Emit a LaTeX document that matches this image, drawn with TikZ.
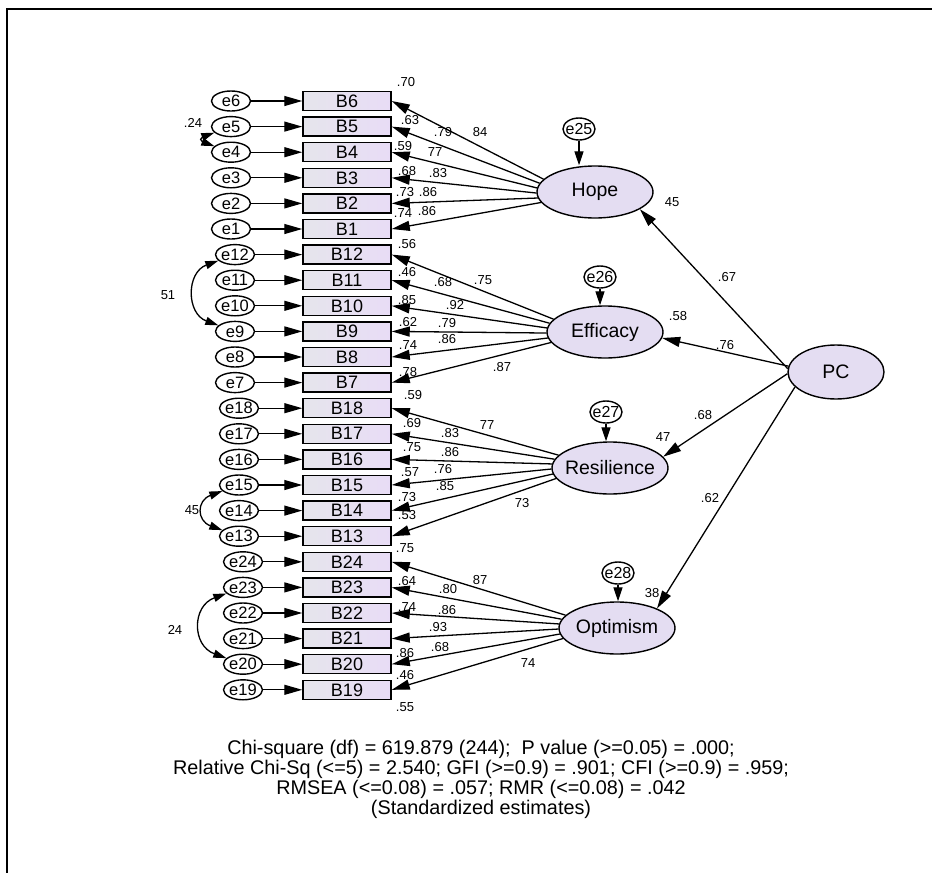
\documentclass[tikz,border=0pt]{standalone}
\usepackage{fontspec}
\setmainfont{Liberation Sans}
\usetikzlibrary{arrows.meta,shapes.geometric}
\definecolor{latViola}{HTML}{E4DDF2}
\definecolor{indGrigio}{HTML}{E6E5EC}
\definecolor{indViola}{HTML}{E8DCF6}

\begin{document}
\begin{tikzpicture}[x=1pt,y=-1pt,
  errore/.style={ellipse,draw,line width=1.4pt,fill=white,inner sep=0pt,
    minimum width=39pt,minimum height=20pt,font=\fontsize{16.5}{16.5}\selectfont},
  disturbo/.style={ellipse,draw,line width=1.4pt,fill=white,inner xsep=-3pt,inner ysep=0pt,
    minimum width=32pt,minimum height=22pt,font=\fontsize{16}{16}\selectfont},
  indicatore/.style={rectangle,draw,line width=1.5pt,left color=indGrigio,right color=indViola,
    minimum width=88pt,minimum height=19pt,inner sep=0pt,font=\fontsize{18}{18}\selectfont},
  latente/.style={ellipse,draw,line width=1.4pt,fill=latViola,inner xsep=-15pt,inner ysep=0pt,
    minimum width=116pt,minimum height=52pt,font=\fontsize{19.5}{19.5}\selectfont},
  peso/.style={font=\fontsize{13}{13}\selectfont,inner sep=0pt},
  freccia/.style={line width=1.3pt,-{Triangle[length=18pt,width=10pt]}},
  covarianza/.style={line width=1.3pt,{Triangle[length=13pt,width=8pt]}-{Triangle[length=13pt,width=8pt]}}]
  \useasboundingbox (0,0) rectangle (932,873);
  % Cornice: solo i lati superiore e sinistro restano nel ritaglio.
  \draw[line width=1.6pt] (7,873) -- (7,9) -- (932,9);
  % Fattori latenti e fattore di ordine superiore.
  \node[latente] (Hope) at (595,192) {Hope};
  \node[latente] (Efficacy) at (605,332) {Efficacy};
  \node[latente] (Resilience) at (610,468) {Resilience};
  \node[latente] (Optimism) at (617,628) {Optimism};
  \node[latente,minimum width=96pt,minimum height=54pt] (PC) at (836,372) {PC};
  % Disturbi dei fattori, sopra ciascuna ellisse.
  \foreach \n/\lat/\x/\y in {25/Hope/579/129,26/Efficacy/600/277,27/Resilience/606/412,28/Optimism/618/573}{
    \node[disturbo] (e\n) at (\x,\y) {e\n};
    \draw[line width=1.3pt,-{Triangle[length=14pt,width=9pt]}] (e\n) -- (e\n |- \lat.north);
  }
  % Sei indicatori per fattore, ciascuno con il proprio errore.
  \foreach \g/\lat in {0/Hope,1/Efficacy,2/Resilience,3/Optimism}{
    \foreach \k in {0,...,5}{
      \pgfmathtruncatemacro{\n}{6*\g+6-\k}
      \pgfmathsetmacro{\y}{101+25.6*(6*\g+\k)}
      \pgfmathsetmacro{\xe}{231+4*\g}
      \pgfmathtruncatemacro{\a}{166+5*\k}
      \node[errore] (e\n) at (\xe,\y) {e\n};
      \node[indicatore] (B\n) at (347,\y) {B\n};
      \draw[freccia] (e\n) -- (B\n);
      \draw[freccia] (\lat.\a) -- (B\n.east);
    }
  }
  % Percorsi strutturali da PC.
  \draw[freccia] (PC.176) -- (Hope.-21);
  \draw[freccia] (PC.173) -- (Efficacy.-6);
  \draw[freccia] (PC.182) -- (Resilience.12);
  \draw[freccia] (PC.200) -- (Optimism.26);
  % Covarianze fra errori.
  \draw[covarianza] (e5.200) to[out=200,in=160,looseness=2.9] (e4.160);
  \draw[covarianza] (e12.200) to[out=200,in=160,looseness=1.36] (e9.160);
  \draw[covarianza] (e15.200) to[out=200,in=160,looseness=1.8] (e13.160);
  \draw[covarianza] (e23.200) to[out=200,in=160,looseness=1.46] (e20.160);
  % Correlazioni multiple al quadrato degli indicatori.
  \foreach \x/\y/\t [count=\i] in {406/82/.70,410/120/.63,403/146/.59,407/171/.68,405/192/.73,403/213/.74,
      407/244/.56,407/272/.46,407/300/.85,408/322/.62,408/345/.74,408/372/.78,
      413/395/.59,412/423/.69,412/447/.75,410/472/.57,407/497/.73,407/515/.53,
      405/548/.75,407/581/.64,407/607/.74,405/653/.86,405/675/.46,405/707/.55}{
    \node[peso] (r\i) at (\x,\y) {\t};
  }
  % Saturazioni standardizzate.
  \foreach \x/\y/\t [count=\i] in {480/132/84,443/132/.79,435/152/77,438/173/.83,428/192/.86,427/211/.86,
      483/280/.75,443/282/.68,455/305/.92,447/323/.79,447/339/.86,502/367/.87,
      487/425/77,450/433/.83,450/452/.86,443/469/.76,445/486/.85,522/503/73,
      480/580/87,448/589/.80,447/610/.86,438/627/.93,440/647/.68,528/663/74}{
    \node[peso] (s\i) at (\x,\y) {\t};
  }
  % Coefficienti strutturali, R quadrato dei fattori e covarianze.
  \foreach \x/\y/\t [count=\i] in {672/202/45,727/277/.67,678/316/.58,725/345/.76,703/415/.68,
      663/437/47,710/498/.62,652/593/38,193/123/.24,168/295/51,192/510/45,175/630/24}{
    \node[peso] (c\i) at (\x,\y) {\t};
  }
  % Indici di adattamento.
  \node[align=center,font=\fontsize{19.8}{20}\selectfont] (indici) at (481,779)
    {Chi-square (df) = 619.879 (244);\ \ P value (>=0.05) = .000;\\
     Relative Chi-Sq (<=5) = 2.540; GFI (>=0.9) = .901; CFI (>=0.9) = .959;\\
     RMSEA (<=0.08) = .057; RMR (<=0.08) = .042\\
     (Standardized estimates)};
\end{tikzpicture}
\end{document}
